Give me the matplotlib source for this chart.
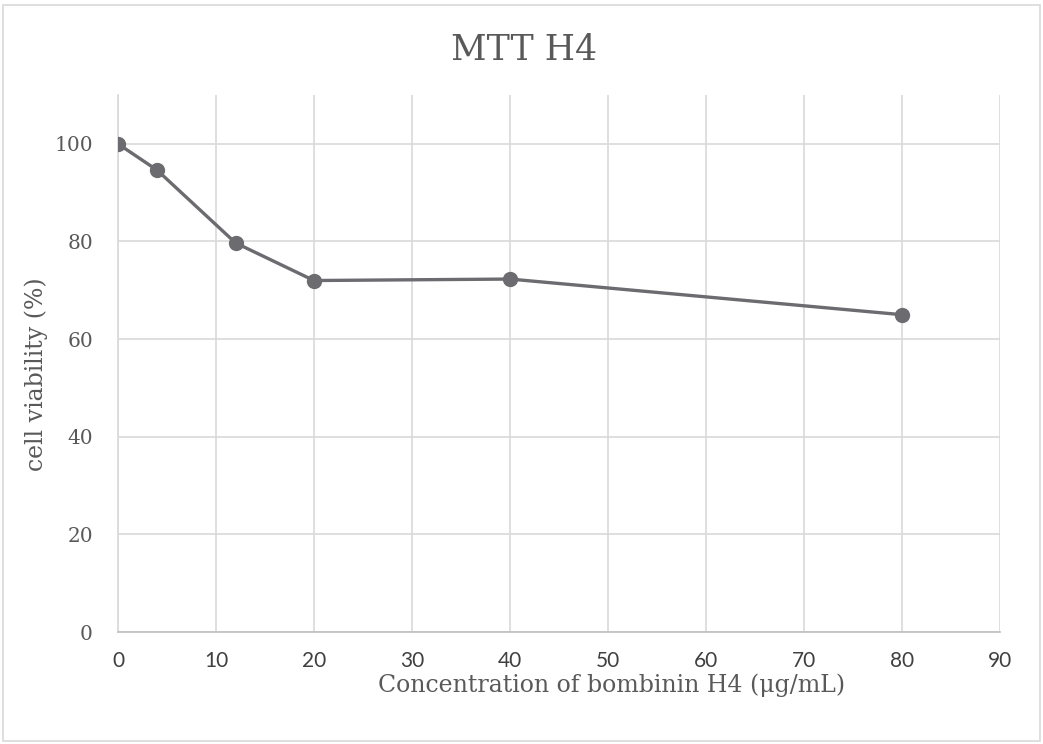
import matplotlib.pyplot as plt
from matplotlib.patches import Rectangle

# data
conc = [0, 4, 12, 20, 40, 80]
viability = [100, 94.6, 79.7, 72.0, 72.3, 65.0]
x_ticks = [0, 10, 20, 30, 40, 50, 60, 70, 80, 90]
y_ticks = [0, 20, 40, 60, 80, 100]

serif = ['DejaVu Serif']
sans = ['Lato', 'DejaVu Sans']
text_col = '#595959'
grid_col = '#d9d9d9'

fig = plt.figure(figsize=(10.43, 7.44), dpi=100)
ax = fig.add_axes([0.1131, 0.1505, 0.8457, 0.7218])

ax.plot(conc, viability, color='#6b6b70', lw=2.4, marker='o', ms=10, zorder=3)

ax.set_xlim(0, 90)
ax.set_ylim(0, 110)
ax.set_xticks(x_ticks)
ax.set_yticks(y_ticks)
ax.set_xticklabels([str(t) for t in x_ticks], family=sans, fontsize=15, color='#404040')
ax.set_yticklabels([str(t) for t in y_ticks], family=serif, fontsize=14.5, color=text_col)
ax.tick_params(length=0, pad=14)
ax.tick_params(axis='y', pad=18)

ax.grid(True, color=grid_col, lw=1.2)
ax.set_axisbelow(True)
for s in ['top', 'right']:
    ax.spines[s].set_visible(False)
ax.spines['left'].set_color(grid_col)
ax.spines['left'].set_linewidth(1.2)
ax.spines['bottom'].set_color('#bfbfbf')
ax.spines['bottom'].set_linewidth(1.2)

ax.set_xlabel('Concentration of bombinin H4 (μg/mL)', family=serif, fontsize=17, color=text_col)
ax.xaxis.set_label_coords(0.56, -0.077)
ax.set_ylabel('cell viability (%)', family=serif, fontsize=17, color=text_col)
ax.yaxis.set_label_coords(-0.079, 0.48)

fig.text(0.502, 0.933, 'MTT H4', family=serif, fontsize=25, color=text_col, ha='center', va='center')

# chart area border
fig.patches.append(Rectangle((0.003, 0.004), 0.994, 0.989, transform=fig.transFigure,
                             fill=False, edgecolor=grid_col, lw=1.2))

fig.savefig('out.png', dpi=100)
